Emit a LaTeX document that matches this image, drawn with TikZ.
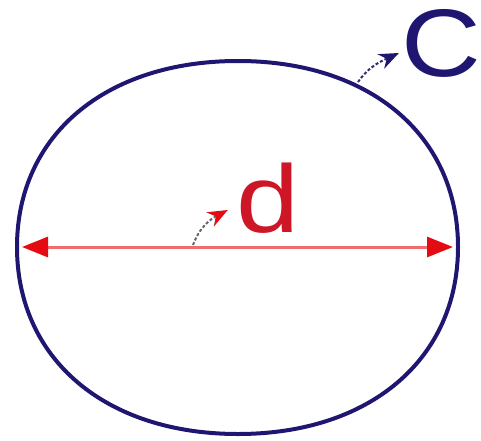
\documentclass[tikz,border=0pt]{standalone}
\usepackage{fontspec}
\setmainfont{Liberation Sans}
\usepackage{graphicx}
\usetikzlibrary{arrows.meta}
\definecolor{navy}{RGB}{30,22,112}
\definecolor{crimson}{RGB}{205,22,38}
\definecolor{arrowred}{RGB}{228,12,18}
\definecolor{shaftgray}{RGB}{105,100,110}

\begin{document}
\begin{tikzpicture}[x=1pt,y=1pt,
    rim/.style={line width=4pt,draw=navy},
    diam/.style={line width=3pt,draw=arrowred!60,
      {Triangle[length=26pt,width=20pt,color=arrowred]}-{Triangle[length=26pt,width=20pt,color=arrowred]},
      shorten <=5pt,shorten >=5pt},
    hint/.style={line width=2pt,dash pattern=on 3pt off 2pt},
    lbl/.style={anchor=base,inner sep=0pt,font=\fontsize{96}{96}\selectfont}]
    \useasboundingbox (0,0) rectangle (481,440);

    % rim
    \coordinate (W) at (17,193);
    \coordinate (N) at (238,379);
    \coordinate (E) at (458,193);
    \coordinate (S) at (238,6);
    \draw[rim] (W) .. controls (17,304.6) and (105.4,379) .. (N)
      .. controls (370,379) and (458,304.6) .. (E)
      .. controls (458,81) and (370,6) .. (S)
      .. controls (105.4,6) and (17,81) .. cycle;

    % diameter
    \draw[diam] (W) -- (E);

    % labels
    \node[lbl,text=crimson] (dlabel) at (268,208) {\scalebox{1.18}[1]{d}};
    \node[lbl,text=navy] (clabel) at (441,363) {\scalebox{1.15}[1]{C}};

    % pointers
    \coordinate (dtail) at (193,195);
    \coordinate (ctail) at (358,358);
    \draw[hint,draw=shaftgray,-{Stealth[length=20pt,width=16pt,color=arrowred]}]
      (dtail) to[out=70,in=208] ([shift={(-8.5,22)}]dlabel.base west);
    \draw[hint,draw=navy!80!gray,-{Stealth[length=20pt,width=16pt,color=navy]}]
      (ctail) to[out=55,in=205] ([shift={(-2,24)}]clabel.base west);
\end{tikzpicture}
\end{document}
